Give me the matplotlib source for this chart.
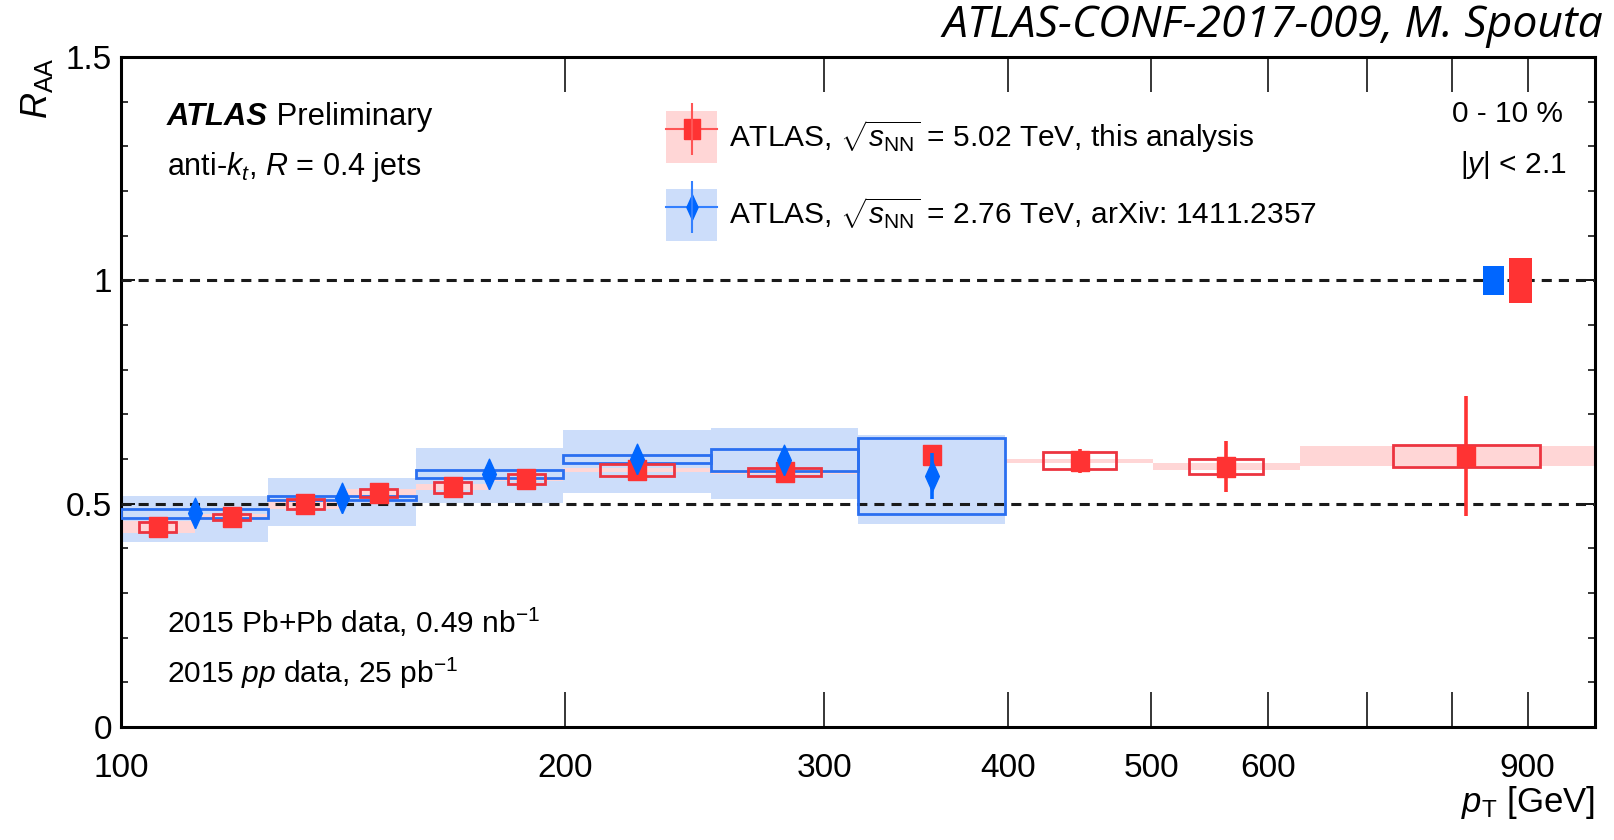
import matplotlib
matplotlib.use("Agg")
import matplotlib.pyplot as plt
import numpy as np
from matplotlib.patches import Patch
from matplotlib.lines import Line2D
from matplotlib.ticker import FixedLocator, FixedFormatter, MultipleLocator, NullLocator

# 2.76 TeV, arXiv:1411.2357 (0-10 %, |y| < 2.1)
blue_edges = [100, 125.9, 158.5, 199.5, 251.2, 316.2, 398.1]
blue_pt = [112.2, 141.3, 177.8, 223.9, 281.8, 354.8]
blue_raa = [0.478, 0.513, 0.566, 0.600, 0.598, 0.562]
blue_stat = [0.004, 0.004, 0.005, 0.007, 0.010, 0.052]
blue_sys = [0.009, 0.005, 0.009, 0.010, 0.025, 0.086]          # open boxes
blue_cor_dn = [0.063, 0.063, 0.065, 0.077, 0.088, 0.108]       # shaded band
blue_cor_up = [0.040, 0.044, 0.058, 0.066, 0.072, 0.092]

# 5.02 TeV, this analysis (nan = box not visible)
red_edges = [100, 112.2, 125.9, 141.3, 158.5, 177.8, 199.5, 251.2, 316.2, 398.1, 501.2, 631.0, 1000]
red_pt = [105.9, 118.9, 133.4, 149.6, 167.9, 188.4, 224.0, 282.0, 355.0, 447.0, 562.0, 818.0]
red_raa = [0.448, 0.470, 0.499, 0.523, 0.537, 0.555, 0.575, 0.571, 0.609, 0.596, 0.583, 0.607]
red_stat = [0.006, 0.006, 0.006, 0.007, 0.008, 0.009, 0.010, 0.012, 0.018, 0.027, 0.057, 0.135]
red_sys = [0.0105, 0.006, 0.012, 0.009, 0.0125, 0.0105, 0.014, 0.0085, np.nan, 0.0195, 0.017, 0.025]
red_cor = [0.014, 0.006, 0.012, 0.009, 0.007, 0.005, 0.004, 0.004, np.nan, 0.0045, 0.007, 0.022]

# global normalisation uncertainties drawn at R_AA = 1
norm_blue = 0.032
norm_red = 0.05
norm_blue_x = (840, 867)
norm_red_x = (874, 906)

xticks = [100, 200, 300, 400, 500, 600, 700, 800, 900, 1000]
xticklabels = ["100", "200", "300", "400", "500", "600", "", "", "900", ""]
yticks = [0, 0.5, 1, 1.5]
yticklabels = ["0", "0.5", "1", "1.5"]

RED = "#FF3333"
RED_BOX = "#EC3440"
PINK = "#FFD6D6"
BLUE = "#0066FF"
BLUE_BOX = "#2A6FF0"
LIGHTBLUE = "#CCDDFA"

plt.rcParams["font.family"] = "Liberation Sans"
plt.rcParams["mathtext.fontset"] = "custom"
plt.rcParams["mathtext.rm"] = "Liberation Sans"
plt.rcParams["mathtext.it"] = "Liberation Sans:italic"
plt.rcParams["mathtext.bf"] = "Liberation Sans:bold"

# tall square and thin diamond like the ROOT markers
SQUARE = [(-0.85, -1), (0.85, -1), (0.85, 1), (-0.85, 1), (-0.85, -1)]
DIAMOND = [(0, -1), (0.45, 0), (0, 1), (-0.45, 0), (0, -1)]

fig = plt.figure(figsize=(16.14, 8.4), dpi=100)
ax = fig.add_axes([121 / 1614, 1 - 727 / 840, 1474 / 1614, 670 / 840])
ax.set_xscale("log")

# shaded (correlated) uncertainties
b_raa = np.array(blue_raa)
ax.bar(blue_edges[:-1], np.array(blue_cor_dn) + np.array(blue_cor_up), width=np.diff(blue_edges),
       bottom=b_raa - np.array(blue_cor_dn), align="edge", color=LIGHTBLUE, lw=0, zorder=1)
r_raa = np.array(red_raa)
ax.bar(red_edges[:-1], 2 * np.array(red_cor), width=np.diff(red_edges),
       bottom=r_raa - np.array(red_cor), align="edge", color=PINK, lw=0, zorder=2)

# reference lines
ax.axhline(1.0, color="#1a1a1a", lw=2.2, ls=(0, (3.3, 2.3)), zorder=3)
ax.axhline(0.5, color="#1a1a1a", lw=2.2, ls=(0, (3.3, 2.3)), zorder=3)

# open boxes: full bin width for 2.76 TeV, half bin width for 5.02 TeV
ax.bar(blue_edges[:-1], 2 * np.array(blue_sys), width=np.diff(blue_edges),
       bottom=b_raa - np.array(blue_sys), align="edge", fill=False, edgecolor=BLUE_BOX, lw=2, zorder=4)
red_lw = np.log10(np.array(red_edges[1:]) / np.array(red_edges[:-1]))
box_l = np.array(red_pt) * 10 ** (-red_lw / 4)
box_r = np.array(red_pt) * 10 ** (red_lw / 4)
ax.bar(box_l, 2 * np.array(red_sys), width=box_r - box_l, bottom=r_raa - np.array(red_sys),
       align="edge", fill=False, edgecolor=RED_BOX, lw=2, zorder=5)

# normalisation boxes
ax.bar(norm_blue_x[0], 2 * norm_blue, width=norm_blue_x[1] - norm_blue_x[0], bottom=1 - norm_blue,
       align="edge", color=BLUE, lw=0, zorder=5)
ax.bar(norm_red_x[0], 2 * norm_red, width=norm_red_x[1] - norm_red_x[0], bottom=1 - norm_red,
       align="edge", color=RED, lw=0, zorder=5)

# points with statistical errors
ax.errorbar(red_pt, red_raa, yerr=red_stat, fmt="none", ecolor=RED, elinewidth=2.6, capsize=0, zorder=6)
ax.plot(red_pt, red_raa, ls="none", marker=SQUARE, ms=15, color=RED, mec=RED, zorder=6)
ax.errorbar(blue_pt, blue_raa, yerr=blue_stat, fmt="none", ecolor=BLUE, elinewidth=2.6, capsize=0, zorder=7)
ax.plot(blue_pt, blue_raa, ls="none", marker=DIAMOND, ms=22, color=BLUE, mec=BLUE, zorder=7)

ax.set_xlim(100, 1000)
ax.set_ylim(0, 1.5)
ax.xaxis.set_major_locator(FixedLocator(xticks))
ax.xaxis.set_major_formatter(FixedFormatter(xticklabels))
ax.xaxis.set_minor_locator(NullLocator())
ax.yaxis.set_major_locator(FixedLocator(yticks))
ax.yaxis.set_major_formatter(FixedFormatter(yticklabels))
ax.yaxis.set_minor_locator(MultipleLocator(0.1))

ax.tick_params(axis="x", which="major", direction="in", length=25, width=1.1, top=True, pad=19, labelsize=24)
ax.tick_params(axis="y", which="major", direction="in", length=10, width=1.3, right=True, pad=6.5, labelsize=24)
ax.tick_params(axis="y", which="minor", direction="in", length=5, width=1.1, right=True)
for s in ax.spines.values():
    s.set_linewidth(2.2)

ax.text(-0.057, 1.0, r"$R_{\mathrm{AA}}$", transform=ax.transAxes, rotation=90,
        ha="center", va="top", fontsize=26)
ax.text(1.0, -0.113, r"$p_{\mathrm{T}}$ [GeV]", transform=ax.transAxes,
        ha="right", va="center", fontsize=25)

# labels inside the frame
t1 = ax.text(0.0312, 0.898, "ATLAS", transform=ax.transAxes, fontsize=22.3,
             fontweight="bold", fontstyle="italic", va="baseline")
ax.annotate(" Preliminary", xy=(1, 0), xycoords=t1, fontsize=22.3, va="bottom")
ax.text(0.0312, 0.824, r"anti-$k_{t}$, $R$ = 0.4 jets", transform=ax.transAxes,
        fontsize=22, va="baseline")
ax.text(0.9785, 0.903, "0 - 10 %", transform=ax.transAxes, fontsize=21.5, ha="right", va="baseline")
ax.text(0.9808, 0.827, r"|$y$| < 2.1", transform=ax.transAxes, fontsize=21.5, ha="right", va="baseline")
ax.text(0.0312, 0.1407, r"2015 Pb+Pb data, 0.49 nb$^{\mathrm{-1}}$", transform=ax.transAxes,
        fontsize=21.5, va="baseline")
ax.text(0.0312, 0.0652, r"2015 $pp$ data, 25 pb$^{\mathrm{-1}}$", transform=ax.transAxes,
        fontsize=21.5, va="baseline")

# legend
h_red = (Patch(fc=PINK, ec="none"),
         Line2D([], [], color="#FF5555", lw=1.5, marker=SQUARE, ms=14, mfc=RED, mec=RED),
         Line2D([], [], ls="none", marker="|", ms=37, mew=1.5, color="#FF5555"))
h_blue = (Patch(fc=LIGHTBLUE, ec="none"),
          Line2D([], [], color="#3380FF", lw=1.5, marker=DIAMOND, ms=18, mfc=BLUE, mec=BLUE),
          Line2D([], [], ls="none", marker="|", ms=37, mew=1.5, color="#3380FF"))
ax.legend(handles=[h_red, h_blue],
          labels=[r"ATLAS, $\sqrt{s_{\mathrm{NN}}}$ = 5.02 TeV, this analysis",
                  r"ATLAS, $\sqrt{s_{\mathrm{NN}}}$ = 2.76 TeV, arXiv: 1411.2357"],
          loc="upper left", bbox_to_anchor=(0.370, 0.919), frameon=False, fontsize=21.5,
          handlelength=1.7, handleheight=2.3, handletextpad=0.4, labelspacing=0.87,
          borderpad=0, borderaxespad=0)

fig.text(0.9936, 1 - 36.7 / 840, "ATLAS-CONF-2017-009, M. Spouta", fontsize=32,
         family="Open Sans", style="italic", ha="right", va="baseline")

fig.savefig("out.png", dpi=100)
